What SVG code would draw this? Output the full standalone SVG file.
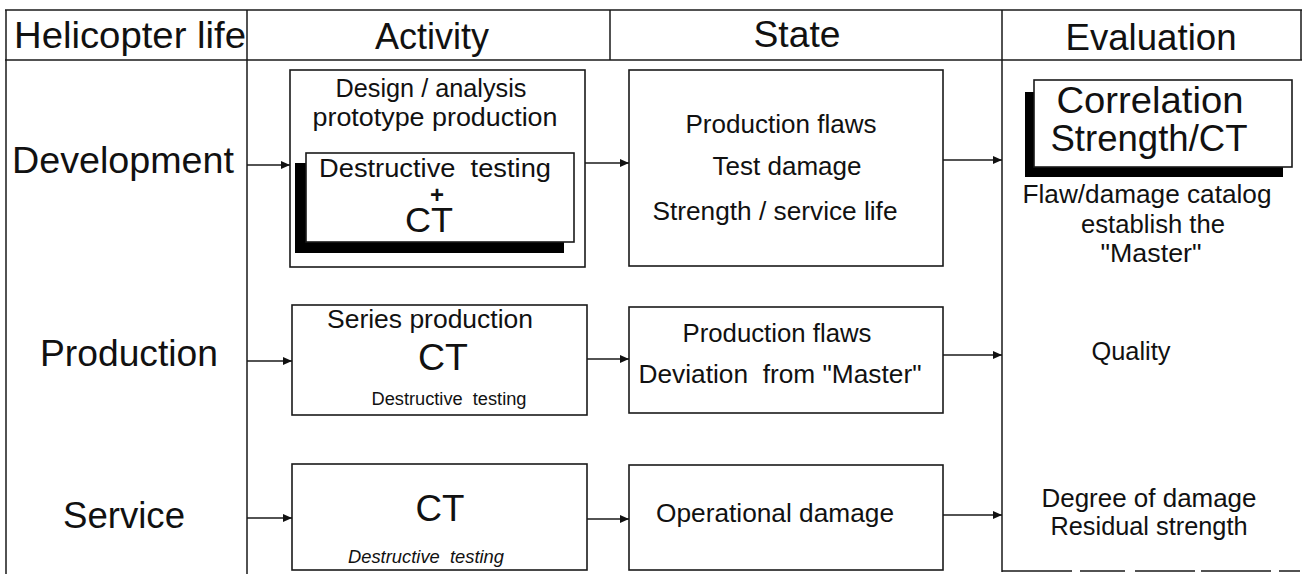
<svg xmlns="http://www.w3.org/2000/svg" width="1305" height="574" viewBox="0 0 1305 574">
<style>
.ln{stroke:#1a1a1a;stroke-width:1.5;fill:none}
.bx{stroke:#1a1a1a;stroke-width:1.6;fill:#fff}
.sh{fill:#000}
text{font-family:"Liberation Sans",Arial,Helvetica,sans-serif;fill:#111;text-anchor:middle}
.h{font-size:37px}
.lab{font-size:37px}
.m{font-size:25px}
.ct{font-size:37px}
.big{font-size:36px}
.s{font-size:18px}
.it{font-style:italic}
.conn{stroke:#1a1a1a;stroke-width:1.6;fill:none;marker-end:url(#ah)}
</style>
<defs>
<marker id="ah" markerWidth="9" markerHeight="8" refX="9" refY="4" orient="auto" markerUnits="userSpaceOnUse"><path d="M0,0 L9,4 L0,8 z" fill="#111"/></marker>
</defs>
<rect width="1305" height="574" fill="#fff"/>
<g id="grid">
<path class="ln" d="M5,10 H1302 M5,60 H1302 M6,10 V574 M247,10 V574 M610,10 V60 M1002,10 V572 M1301,10 V60"/>
<path class="ln" d="M1002,571 H1300" stroke-dasharray="70 8 45 10 60 6"/>
</g>
<g id="headers">
<text class="h" x="130" y="48" textLength="232" lengthAdjust="spacingAndGlyphs">Helicopter life</text>
<text class="h" x="432" y="49" textLength="114" lengthAdjust="spacingAndGlyphs">Activity</text>
<text class="h" x="797" y="47" textLength="87" lengthAdjust="spacingAndGlyphs">State</text>
<text class="h" x="1151" y="50" textLength="171" lengthAdjust="spacingAndGlyphs">Evaluation</text>
</g>
<g id="row-development">
<text class="lab" x="123" y="173" textLength="222" lengthAdjust="spacingAndGlyphs">Development</text>
</g>
<g id="row-production">
<text class="lab" x="129" y="366" textLength="178" lengthAdjust="spacingAndGlyphs">Production</text>
</g>
<g id="row-service">
<text class="lab" x="124" y="528" textLength="122" lengthAdjust="spacingAndGlyphs">Service</text>
</g>
<g id="dev-activity">
<rect class="bx" x="290" y="70" width="295" height="197"/>
<text class="m" x="431" y="97" textLength="191" lengthAdjust="spacingAndGlyphs">Design / analysis</text>
<text class="m" x="435" y="126" textLength="245" lengthAdjust="spacingAndGlyphs">prototype production</text>
<rect class="sh" x="295" y="163" width="269" height="90"/>
<rect class="bx" x="306" y="153" width="268" height="89"/>
<text class="m" x="435" y="177" textLength="232" lengthAdjust="spacingAndGlyphs">Destructive&#160; testing</text>
<text x="437" y="203" font-size="24" font-weight="bold">+</text>
<text class="ct" x="429" y="232" font-size="35" textLength="48" lengthAdjust="spacingAndGlyphs" style="font-size:35px">CT</text>
</g>
<g id="dev-state">
<rect class="bx" x="629" y="70" width="314" height="196"/>
<text class="m" x="781" y="133" textLength="191" lengthAdjust="spacingAndGlyphs">Production flaws</text>
<text class="m" x="787" y="175" textLength="149" lengthAdjust="spacingAndGlyphs">Test damage</text>
<text class="m" x="775" y="220" textLength="245" lengthAdjust="spacingAndGlyphs">Strength / service life</text>
</g>
<g id="dev-evaluation">
<rect class="sh" x="1025" y="92" width="258" height="85"/>
<rect class="bx" x="1034" y="80" width="258" height="87"/>
<text class="big" x="1150" y="113" textLength="187" lengthAdjust="spacingAndGlyphs">Correlation</text>
<text class="big" x="1149" y="151" textLength="197" lengthAdjust="spacingAndGlyphs">Strength/CT</text>
<text class="m" x="1147" y="203" textLength="249" lengthAdjust="spacingAndGlyphs">Flaw/damage catalog</text>
<text class="m" x="1153" y="233" textLength="144" lengthAdjust="spacingAndGlyphs">establish the</text>
<text class="m" x="1151" y="262" textLength="101" lengthAdjust="spacingAndGlyphs">"Master"</text>
</g>
<g id="prod-activity">
<rect class="bx" x="292" y="305" width="295" height="110"/>
<text class="m" x="430" y="328" textLength="206" lengthAdjust="spacingAndGlyphs">Series production</text>
<text class="ct" x="443" y="370" textLength="50" lengthAdjust="spacingAndGlyphs">CT</text>
<text class="s" x="449" y="405" textLength="155" lengthAdjust="spacingAndGlyphs">Destructive&#160; testing</text>
</g>
<g id="prod-state">
<rect class="bx" x="629" y="307" width="314" height="106"/>
<text class="m" x="777" y="342" textLength="189" lengthAdjust="spacingAndGlyphs">Production flaws</text>
<text class="m" x="780" y="383" textLength="283" lengthAdjust="spacingAndGlyphs">Deviation&#160; from "Master"</text>
</g>
<g id="prod-evaluation">
<text class="m" x="1131" y="360" textLength="79" lengthAdjust="spacingAndGlyphs">Quality</text>
</g>
<g id="serv-activity">
<rect class="bx" x="292" y="464" width="295" height="106"/>
<text class="ct" x="440" y="521" textLength="49" lengthAdjust="spacingAndGlyphs">CT</text>
<text class="s it" x="426" y="563" textLength="156" lengthAdjust="spacingAndGlyphs">Destructive&#160; testing</text>
</g>
<g id="serv-state">
<rect class="bx" x="629" y="465" width="314" height="105"/>
<text class="m" x="775" y="522" textLength="238" lengthAdjust="spacingAndGlyphs">Operational damage</text>
</g>
<g id="serv-evaluation">
<text class="m" x="1149" y="507" textLength="215" lengthAdjust="spacingAndGlyphs">Degree of damage</text>
<text class="m" x="1149" y="535" textLength="197" lengthAdjust="spacingAndGlyphs">Residual strength</text>
</g>
<g id="connectors">
<path class="conn" d="M247,165 H290"/>
<path class="conn" d="M585,163 H629"/>
<path class="conn" d="M943,160 H1002"/>
<path class="conn" d="M247,361 H292"/>
<path class="conn" d="M587,359 H629"/>
<path class="conn" d="M943,355 H1002"/>
<path class="conn" d="M247,518 H292"/>
<path class="conn" d="M587,519 H629"/>
<path class="conn" d="M943,515 H1002"/>
</g>
</svg>
